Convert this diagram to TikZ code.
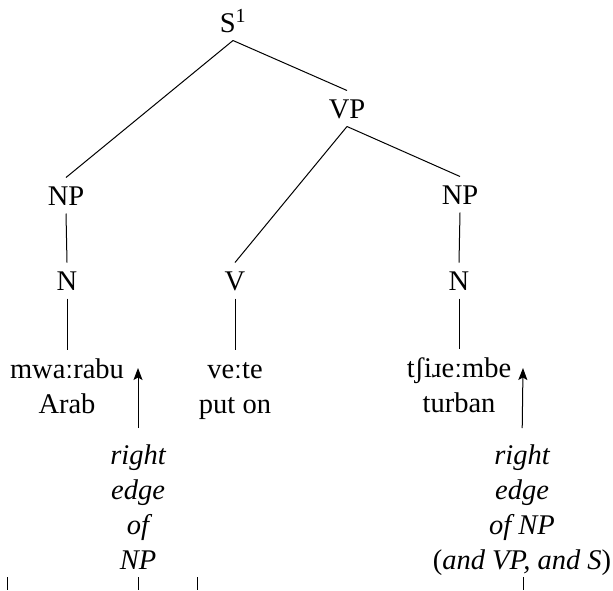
\documentclass[tikz,border=0pt]{standalone}
\usepackage{fontspec}
\setmainfont{Liberation Serif}
\usetikzlibrary{arrows.meta,positioning}

\begin{document}
\begin{tikzpicture}[x=1pt, y=-1pt, line width=1pt,
  every node/.style={font=\fontsize{28.5}{35}\selectfont},
  cat/.style={text height=19pt, text depth=0pt, inner xsep=2pt, inner ysep=8pt, anchor=base},
  word/.style={text height=20pt, text depth=0pt, inner ysep=8pt, anchor=base},
  gloss/.style={inner sep=0pt, anchor=base},
  edgenote/.style={font=\fontsize{28.5}{35}\selectfont\itshape, align=center, inner sep=0pt, anchor=north},
  up/.style={-{Stealth[length=12pt,width=9pt,inset=2.5pt]}, shorten <=16pt}]
\useasboundingbox (0,0) rectangle (613,590);
% categories
\node[cat] (S)   at (233,32)  {S\textsuperscript{1}};
\node[cat] (VP)  at (347,118) {VP};
\node[cat] (NPa) at (66,205)  {NP};
\node[cat] (NPb) at (460,204) {NP};
\node[cat] (Na)  at (67,290)  {N};
\node[cat] (V)   at (235,290) {V};
\node[cat] (Nb)  at (459,290) {N};
% words and glosses
\node[word] (wa) at (67,378)  {mwaːrabu};
\node[word] (wb) at (235,378) {veːte};
\node[word] (wc) at (459,377) {tʃiɹeːmbe};
\node[gloss] (ga) at (67,413)  {Arab};
\node[gloss] (gb) at (235,413) {put on};
\node[gloss] (gc) at (459,412) {turban};
% branches
\draw (S.south) -- (NPa.north);
\draw (S.south) -- (VP.north);
\draw (VP.south) -- (V.north);
\draw (VP.south) -- (NPb.north);
\draw (NPa.south) -- (Na.north);
\draw (NPb.south) -- (Nb.north);
\draw (Na.south) -- (wa.north);
\draw (V.south) -- (wb.north);
\draw (Nb.south) -- (wc.north);
% edge markers
\coordinate (tipa) at (138,368);
\coordinate (tipb) at (523,368);
\node[edgenote] (ea) at (138,444) {right\\edge\\of\\NP};
\node[edgenote] (eb) at (522,444) {right\\edge\\of NP\\{\upshape(}and VP, and S{\upshape)}};
\draw[up] (ea.north) -- (tipa);
\draw[up] (eb.north) -- (tipb);
% ticks at the bottom
\coordinate (ka) at (7,577);
\coordinate (kb) at (138,577);
\coordinate (kc) at (197,577);
\coordinate (kd) at (523,577);
\foreach \k in {ka,kb,kc,kd}
  \draw (\k) -- ++(0,13);
\end{tikzpicture}
\end{document}
